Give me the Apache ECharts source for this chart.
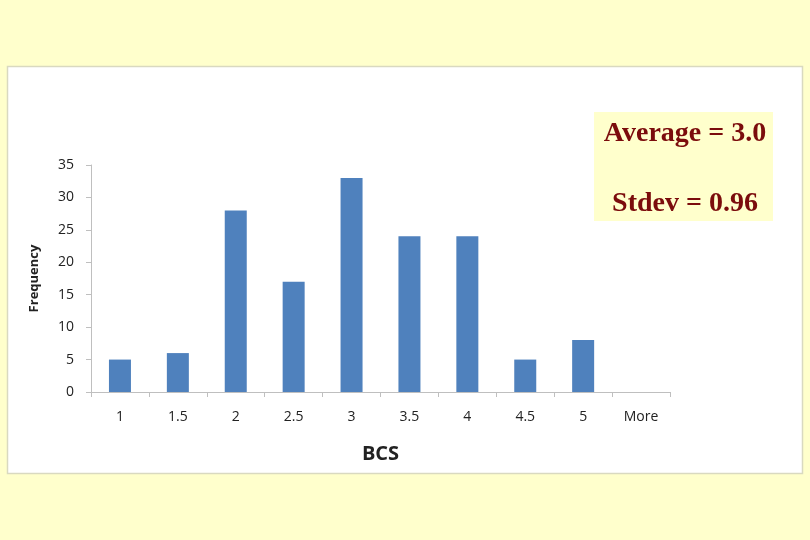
<!DOCTYPE html>
<html><head><meta charset="utf-8">
<script src="https://cdn.jsdelivr.net/npm/echarts@6/dist/echarts.min.js"></script>
<style>html,body{margin:0;padding:0;background:#FFFFCC;}#c{width:810px;height:540px;}</style>
</head><body><div id="c"></div>
<script>
var categories = ['1','1.5','2','2.5','3','3.5','4','4.5','5','More'];
var frequency = [5,6,28,17,33,24,24,5,8,0];
var yTicks = {min:0, max:35, interval:5};
var statsLines = ['Average = 3.0', 'Stdev = 0.96'];

var chart = echarts.init(document.getElementById('c'), null, {renderer:'canvas'});
chart.setOption({
  backgroundColor: '#FFFFCC',
  animation: false,
  graphic: [
    {type:'rect', z:-10, shape:{x:7.5,y:66.5,width:795,height:407}, style:{fill:'#ffffff', stroke:'#d9d9c0', lineWidth:1.5}},
    {type:'rect', z:10, shape:{x:594,y:112,width:179,height:109}, style:{fill:'#FFFFCC', stroke:null}},
    {type:'text', z:11, x:685, y:134, style:{text:statsLines[0], align:'center', verticalAlign:'middle', font:'bold 28px "Liberation Serif", "Times New Roman", serif', fill:'#7B0C0C'}},
    {type:'text', z:11, x:685, y:204, style:{text:statsLines[1], align:'center', verticalAlign:'middle', font:'bold 28px "Liberation Serif", "Times New Roman", serif', fill:'#7B0C0C'}}
  ],
  grid: {left:91, right:140, top:165, bottom:148, containLabel:false},
  xAxis: {
    type:'category', data:categories,
    name:'BCS', nameLocation:'middle', nameGap:52,
    nameTextStyle:{fontFamily:'Open Sans, DejaVu Sans, sans-serif', fontWeight:'bold', fontSize:20, color:'#222'},
    axisLine:{lineStyle:{color:'#bfbfbf'}},
    axisTick:{show:true, length:5, lineStyle:{color:'#bfbfbf'}},
    axisLabel:{fontFamily:'Open Sans, DejaVu Sans, sans-serif', fontSize:14, color:'#222', margin:18}
  },
  yAxis: {
    type:'value', min:yTicks.min, max:yTicks.max, interval:yTicks.interval,
    name:'Frequency', nameLocation:'middle', nameGap:50, nameRotate:90,
    nameTextStyle:{fontFamily:'Open Sans, DejaVu Sans, sans-serif', fontWeight:'bold', fontSize:13, color:'#222'},
    axisLine:{show:true, lineStyle:{color:'#bfbfbf'}},
    axisTick:{show:true, length:5, lineStyle:{color:'#bfbfbf'}},
    splitLine:{show:false},
    axisLabel:{fontFamily:'Open Sans, DejaVu Sans, sans-serif', fontSize:14, color:'#222', margin:17}
  },
  series: [{
    type:'bar', data:frequency, barWidth:'38%',
    itemStyle:{color:'#4F81BD'}
  }]
});
</script>
</body></html>
